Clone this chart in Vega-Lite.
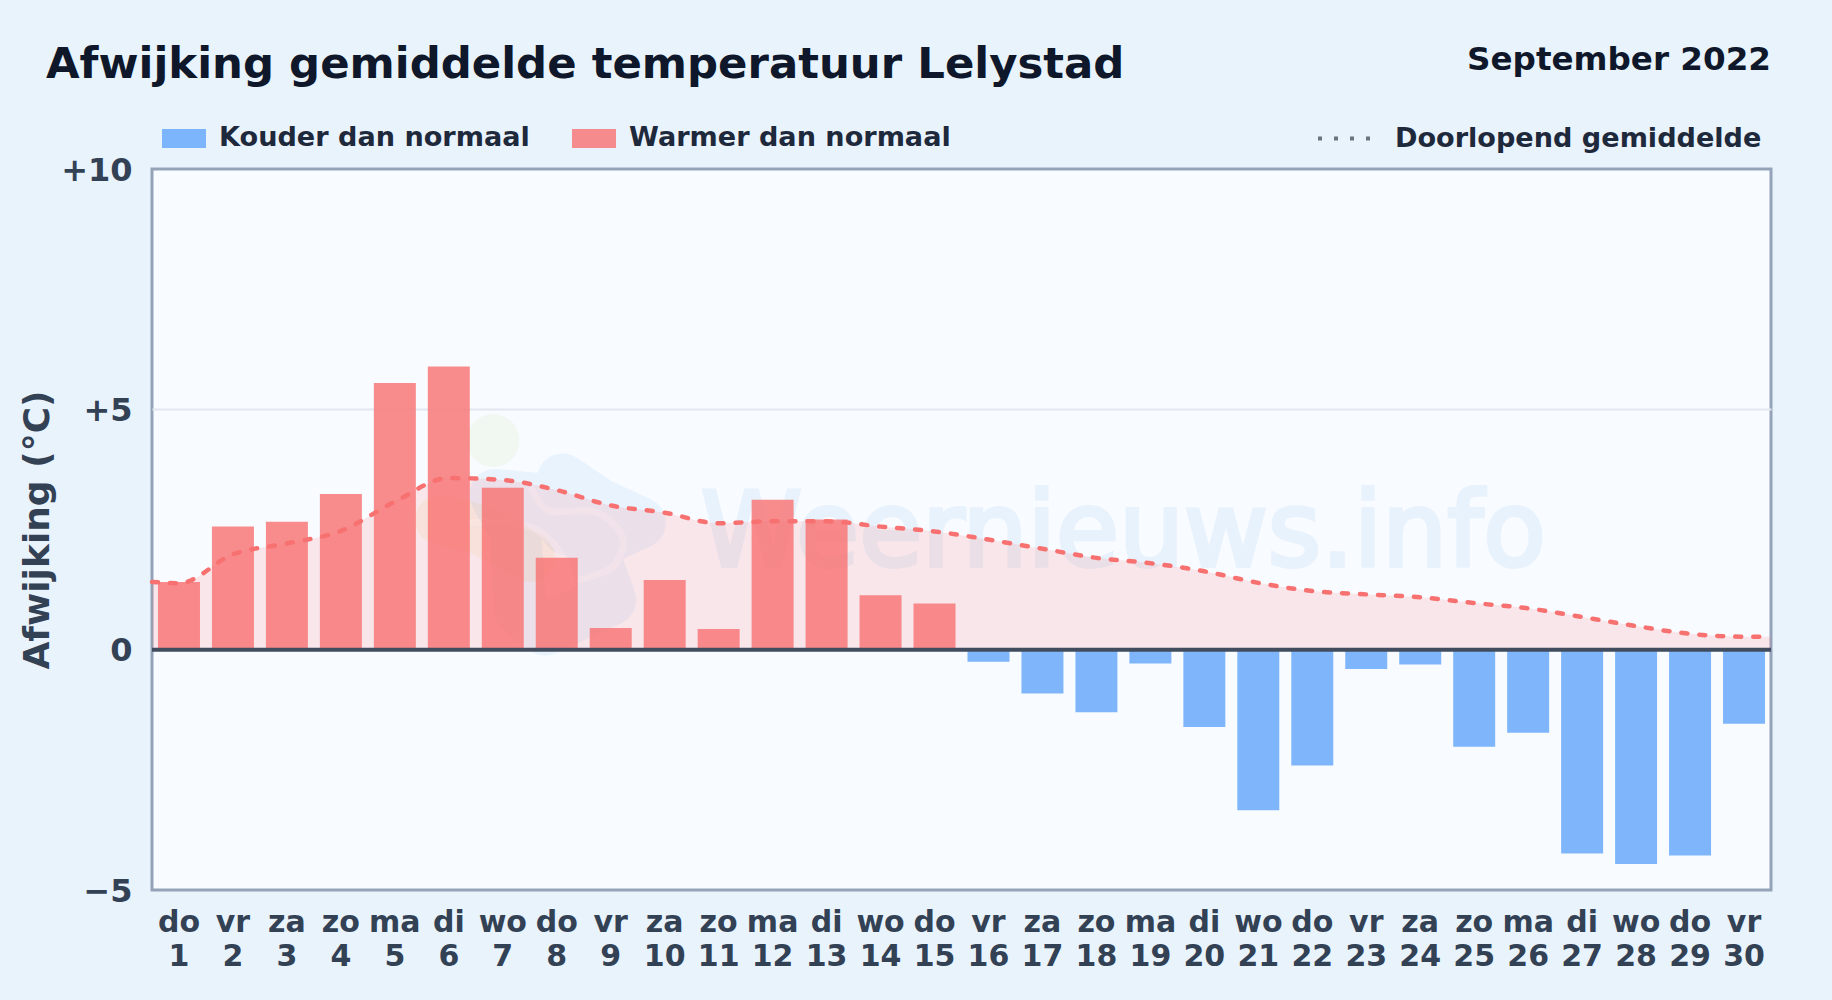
{
"$schema":"https://vega.github.io/schema/vega-lite/v6.json",
"width":1619,"height":721,
"autosize":{"type":"none"},
"padding":{"left":152,"top":169,"right":61,"bottom":110},
"background":"#e8f3fc",
"config":{"font":"DejaVu Sans","view":{"fill":"#f8fbff","stroke":"#94a3b8","strokeWidth":3}},
"title":{"text":"Afwijking gemiddelde temperatuur Lelystad","anchor":"start","frame":"group","dx":-106,"offset":-43,"fontSize":43.4,"fontWeight":"bold","color":"#0f172a","font":"DejaVu Sans"},
"datasets":{
"dagen":[
{"dag":1,"label":"do|1","afwijking":1.41,"soort":"Warmer dan normaal"},
{"dag":2,"label":"vr|2","afwijking":2.56,"soort":"Warmer dan normaal"},
{"dag":3,"label":"za|3","afwijking":2.66,"soort":"Warmer dan normaal"},
{"dag":4,"label":"zo|4","afwijking":3.24,"soort":"Warmer dan normaal"},
{"dag":5,"label":"ma|5","afwijking":5.55,"soort":"Warmer dan normaal"},
{"dag":6,"label":"di|6","afwijking":5.89,"soort":"Warmer dan normaal"},
{"dag":7,"label":"wo|7","afwijking":3.37,"soort":"Warmer dan normaal"},
{"dag":8,"label":"do|8","afwijking":1.91,"soort":"Warmer dan normaal"},
{"dag":9,"label":"vr|9","afwijking":0.45,"soort":"Warmer dan normaal"},
{"dag":10,"label":"za|10","afwijking":1.45,"soort":"Warmer dan normaal"},
{"dag":11,"label":"zo|11","afwijking":0.43,"soort":"Warmer dan normaal"},
{"dag":12,"label":"ma|12","afwijking":3.12,"soort":"Warmer dan normaal"},
{"dag":13,"label":"di|13","afwijking":2.71,"soort":"Warmer dan normaal"},
{"dag":14,"label":"wo|14","afwijking":1.13,"soort":"Warmer dan normaal"},
{"dag":15,"label":"do|15","afwijking":0.96,"soort":"Warmer dan normaal"},
{"dag":16,"label":"vr|16","afwijking":-0.25,"soort":"Kouder dan normaal"},
{"dag":17,"label":"za|17","afwijking":-0.91,"soort":"Kouder dan normaal"},
{"dag":18,"label":"zo|18","afwijking":-1.3,"soort":"Kouder dan normaal"},
{"dag":19,"label":"ma|19","afwijking":-0.29,"soort":"Kouder dan normaal"},
{"dag":20,"label":"di|20","afwijking":-1.61,"soort":"Kouder dan normaal"},
{"dag":21,"label":"wo|21","afwijking":-3.34,"soort":"Kouder dan normaal"},
{"dag":22,"label":"do|22","afwijking":-2.41,"soort":"Kouder dan normaal"},
{"dag":23,"label":"vr|23","afwijking":-0.4,"soort":"Kouder dan normaal"},
{"dag":24,"label":"za|24","afwijking":-0.31,"soort":"Kouder dan normaal"},
{"dag":25,"label":"zo|25","afwijking":-2.02,"soort":"Kouder dan normaal"},
{"dag":26,"label":"ma|26","afwijking":-1.73,"soort":"Kouder dan normaal"},
{"dag":27,"label":"di|27","afwijking":-4.24,"soort":"Kouder dan normaal"},
{"dag":28,"label":"wo|28","afwijking":-4.46,"soort":"Kouder dan normaal"},
{"dag":29,"label":"do|29","afwijking":-4.28,"soort":"Kouder dan normaal"},
{"dag":30,"label":"vr|30","afwijking":-1.54,"soort":"Kouder dan normaal"}
],
"gemiddelde":[
{"x":0.5,"v":1.41},{"x":1,"v":1.38},{"x":2,"v":1.985},{"x":3,"v":2.21},{"x":4,"v":2.47},{"x":5,"v":3.08},{"x":6,"v":3.57},{"x":7,"v":3.53},{"x":8,"v":3.32},{"x":9,"v":3.0},{"x":10,"v":2.85},{"x":11,"v":2.63},{"x":12,"v":2.67},{"x":13,"v":2.67},{"x":14,"v":2.56},{"x":15,"v":2.46},{"x":16,"v":2.29},{"x":17,"v":2.1},{"x":18,"v":1.91},{"x":19,"v":1.8},{"x":20,"v":1.63},{"x":21,"v":1.39},{"x":22,"v":1.22},{"x":23,"v":1.15},{"x":24,"v":1.09},{"x":25,"v":0.97},{"x":26,"v":0.86},{"x":27,"v":0.68},{"x":28,"v":0.49},{"x":29,"v":0.33},{"x":30,"v":0.27},{"x":30.5,"v":0.27}
],
"logoBlauw":[
{"n":1,"x":8.11,"y":3.54},{"n":2,"x":8.8,"y":3.02},{"n":3,"x":9.54,"y":2.64},{"n":4,"x":8.62,"y":2.18},{"n":5,"x":8.99,"y":1.04},{"n":6,"x":7.78,"y":0.42},{"n":7,"x":7.32,"y":0.83},{"n":8,"x":7.23,"y":2.5},{"n":9,"x":6.86,"y":3.22},{"n":10,"x":7.78,"y":3.12},{"n":11,"x":8.2,"y":2.5}
],
"logoGeel":[
{"n":1,"x":5.84,"y":2.7},{"n":2,"x":6.58,"y":2.5},{"n":3,"x":7.5,"y":1.93}
],
"logoBand":[
{"deel":"a","n":1,"x":7.54,"y":3.33},{"deel":"a","n":2,"x":7.82,"y":2.91},{"deel":"a","n":3,"x":8.75,"y":2.85},{"deel":"a","n":4,"x":9.23,"y":2.29},{"deel":"a","n":5,"x":9.04,"y":1.73},{"deel":"a","n":6,"x":8.43,"y":1.46},
{"deel":"b","n":1,"x":6.39,"y":2.64},{"deel":"b","n":2,"x":7.5,"y":2.56},{"deel":"b","n":3,"x":8.06,"y":2.02},{"deel":"b","n":4,"x":8.12,"y":1.52}
]
},
"resolve":{"scale":{"x":"independent","color":"independent"}},
"encoding":{"y":{"type":"quantitative","scale":{"domain":[-5,10],"nice":false,"zero":false}}},
"layer":[
{"data":{"values":[{"x":6.82,"y":4.35}]},"mark":{"type":"point","filled":true,"size":2800,"color":"#c5e08a","opacity":0.12},
 "encoding":{"x":{"field":"x","type":"quantitative","axis":null,"scale":{"domain":[0.5,30.5],"nice":false,"zero":false}},"y":{"field":"y","type":"quantitative","title":"Afwijking (°C)","axis":{"values":[-5,0,5,10],"labelExpr":"datum.value>0?'+'+datum.value:(datum.value<0?'−'+abs(datum.value):'0')","labelFontSize":32,"labelFontWeight":"bold","labelColor":"#334155","labelPadding":20,"labelOffset":1,"ticks":false,"domain":false,"grid":true,"gridColor":"#e2e8f0","gridWidth":2,"gridOpacity":{"condition":{"test":"datum.value===5","value":1},"value":0},"titleFontSize":36,"titleFontWeight":"bold","titleColor":"#334155","titleX":-96}}}},
{"data":{"name":"logoGeel"},"mark":{"type":"line","color":"#f5c84c","opacity":0.1,"strokeWidth":50,"strokeCap":"round","strokeJoin":"round"},
 "encoding":{"x":{"field":"x","type":"quantitative","axis":null,"scale":{"domain":[0.5,30.5],"nice":false,"zero":false}},"y":{"field":"y","type":"quantitative"},"order":{"field":"n"}}},
{"data":{"name":"logoBlauw"},"mark":{"type":"line","color":"#3b9ff0","opacity":0.08,"strokeWidth":52,"strokeCap":"round","strokeJoin":"round"},
 "encoding":{"x":{"field":"x","type":"quantitative","axis":null,"scale":{"domain":[0.5,30.5],"nice":false,"zero":false}},"y":{"field":"y","type":"quantitative"},"order":{"field":"n"}}},
{"data":{"name":"logoBand"},"mark":{"type":"line","color":"#ffffff","opacity":0.35,"strokeWidth":7,"strokeCap":"round","interpolate":"catmull-rom"},
 "encoding":{"x":{"field":"x","type":"quantitative","axis":null,"scale":{"domain":[0.5,30.5],"nice":false,"zero":false}},"y":{"field":"y","type":"quantitative"},"detail":{"field":"deel"},"order":{"field":"n"}}},
{"data":{"values":[{"x":18.5,"y":1.75,"tekst":"Weernieuws.info"}]},"mark":{"type":"text","fontSize":102.5,"font":"DejaVu Sans","color":"#3b8fe0","opacity":0.08,"stroke":"#3b8fe0","strokeWidth":4,"align":"center","baseline":"alphabetic"},
 "encoding":{"x":{"field":"x","type":"quantitative","axis":null,"scale":{"domain":[0.5,30.5],"nice":false,"zero":false}},"y":{"field":"y","type":"quantitative"},"text":{"field":"tekst"}}},
{"data":{"name":"gemiddelde"},"mark":{"type":"area","color":"#f87171","opacity":0.15,"interpolate":"monotone"},
 "encoding":{"x":{"field":"x","type":"quantitative","axis":null,"scale":{"domain":[0.5,30.5],"nice":false,"zero":false}},"y":{"field":"v","type":"quantitative"},"y2":{"datum":0}}},
{"data":{"name":"dagen"},"mark":{"type":"bar","opacity":0.8},
 "encoding":{
 "x":{"field":"label","type":"ordinal","sort":null,"scale":{"paddingInner":0.222,"paddingOuter":0.111},"title":null,"axis":{"labelExpr":"split(datum.label,'|')","labelAngle":0,"labelFontSize":30,"labelFontWeight":"bold","labelColor":"#334155","labelLineHeight":34,"labelPadding":17,"ticks":false,"domain":false,"grid":false,"labelBaseline":"top"}},
 "y":{"field":"afwijking","type":"quantitative"},
 "y2":{"datum":0},
 "color":{"field":"soort","type":"nominal","scale":{"domain":["Kouder dan normaal","Warmer dan normaal"],"range":["#60a5fa","#f87171"]},"legend":{"title":null,"orient":"none","legendX":10,"legendY":-53,"direction":"horizontal","symbolType":"M-1,-0.43H1V0.43H-1Z","symbolSize":1936,"symbolStrokeWidth":0,"labelFontSize":27.1,"labelFontWeight":"bold","labelColor":"#1e293b","labelOffset":13,"labelLimit":500,"columnPadding":42,"padding":0}}
 }},
{"data":{"name":"gemiddelde"},"mark":{"type":"line","color":"#f87171","strokeWidth":4.5,"strokeCap":"round","strokeDash":[6,12],"interpolate":"monotone"},
 "encoding":{"x":{"field":"x","type":"quantitative","axis":null,"scale":{"domain":[0.5,30.5],"nice":false,"zero":false}},"y":{"field":"v","type":"quantitative"}}},
{"data":{"values":[{"x":1,"v":1.38,"serie":"Doorlopend gemiddelde"}]},"mark":{"type":"line","color":"#6b7280","strokeWidth":4,"strokeCap":"butt"},
 "encoding":{"x":{"field":"x","type":"quantitative","axis":null,"scale":{"domain":[0.5,30.5],"nice":false,"zero":false}},"y":{"field":"v","type":"quantitative"},
 "strokeDash":{"field":"serie","type":"nominal","scale":{"domain":["Doorlopend gemiddelde"],"range":[[4,12]]},"legend":{"title":null,"orient":"none","legendX":1164,"legendY":-62,"symbolType":"stroke","symbolSize":3481,"symbolStrokeWidth":4,"labelFontSize":27.1,"labelFontWeight":"bold","labelColor":"#1e293b","labelOffset":16,"labelLimit":500,"padding":0}}}},
{"data":{"values":[{"nul":0}]},"mark":{"type":"rule","color":"#414d5f","strokeWidth":4},"encoding":{"y":{"field":"nul","type":"quantitative"}}},
{"data":{"values":[{"x":30.5,"y":12.05,"tekst":"September 2022"}]},"mark":{"type":"text","fontSize":32.6,"fontWeight":"bold","font":"DejaVu Sans","color":"#0f172a","align":"right","baseline":"alphabetic","dx":0},
 "encoding":{"x":{"field":"x","type":"quantitative","axis":null,"scale":{"domain":[0.5,30.5],"nice":false,"zero":false}},"y":{"field":"y","type":"quantitative"},"text":{"field":"tekst"}}}
]
}
